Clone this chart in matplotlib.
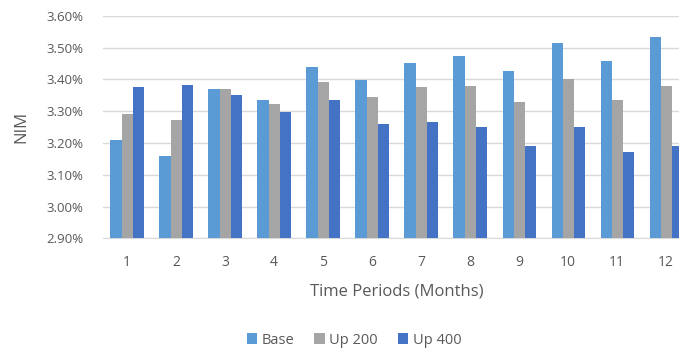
import numpy as np
import matplotlib.pyplot as plt
from matplotlib.ticker import FuncFormatter

# Values (NIM in %)
months = [1, 2, 3, 4, 5, 6, 7, 8, 9, 10, 11, 12]
base = [3.208, 3.158, 3.370, 3.334, 3.438, 3.397, 3.453, 3.474, 3.427, 3.516, 3.459, 3.532]
up200 = [3.292, 3.271, 3.370, 3.323, 3.391, 3.344, 3.375, 3.380, 3.328, 3.401, 3.334, 3.380]
up400 = [3.376, 3.381, 3.350, 3.298, 3.334, 3.260, 3.266, 3.250, 3.192, 3.250, 3.171, 3.192]
series_names = ['Base', 'Up 200', 'Up 400']
colors = ['#5B9BD5', '#A5A5A5', '#4472C4']

plt.rcParams['font.family'] = ['Open Sans', 'DejaVu Sans']
text_color = '#595959'

fig = plt.figure(figsize=(6.79, 3.52), dpi=100)
ax = fig.add_axes([0.151, 0.323, 0.866, 0.632])

x = np.arange(len(months))
w = 0.225
for i, (vals, name, c) in enumerate(zip([base, up200, up400], series_names, colors)):
    ax.bar(x + (i - 1) * w, np.array(vals) - 2.9, width=w, bottom=2.9,
           color=c, label=name, zorder=3)

ax.set_xlim(-0.5, len(months) - 0.5)
ax.set_ylim(2.9, 3.6)
ax.set_yticks(np.arange(2.9, 3.61, 0.1))
ax.yaxis.set_major_formatter(FuncFormatter(lambda v, p: f'{v:.2f}%'))
ax.set_xticks(x)
ax.set_xticklabels([str(m) for m in months])
ax.grid(axis='y', color='#D9D9D9', linewidth=1, zorder=0)
for s in ['top', 'right', 'left']:
    ax.spines[s].set_visible(False)
ax.spines['bottom'].set_color('#D9D9D9')
ax.tick_params(length=0, labelsize=10, colors=text_color)
ax.tick_params(axis='y', pad=14, labelsize=9.5)
ax.tick_params(axis='x', pad=12)

ax.set_ylabel('NIM', fontsize=12, color=text_color, labelpad=12)
ax.set_xlabel('Time Periods (Months)', fontsize=12, color=text_color, labelpad=10)

fig.legend(loc='center', bbox_to_anchor=(354 / 679, 1 - 340 / 352), ncol=3,
           frameon=False, fontsize=10.5, handlelength=0.7, handleheight=0.7,
           handletextpad=0.3, columnspacing=1.4, labelcolor=text_color)

fig.savefig('out.png', dpi=100)
